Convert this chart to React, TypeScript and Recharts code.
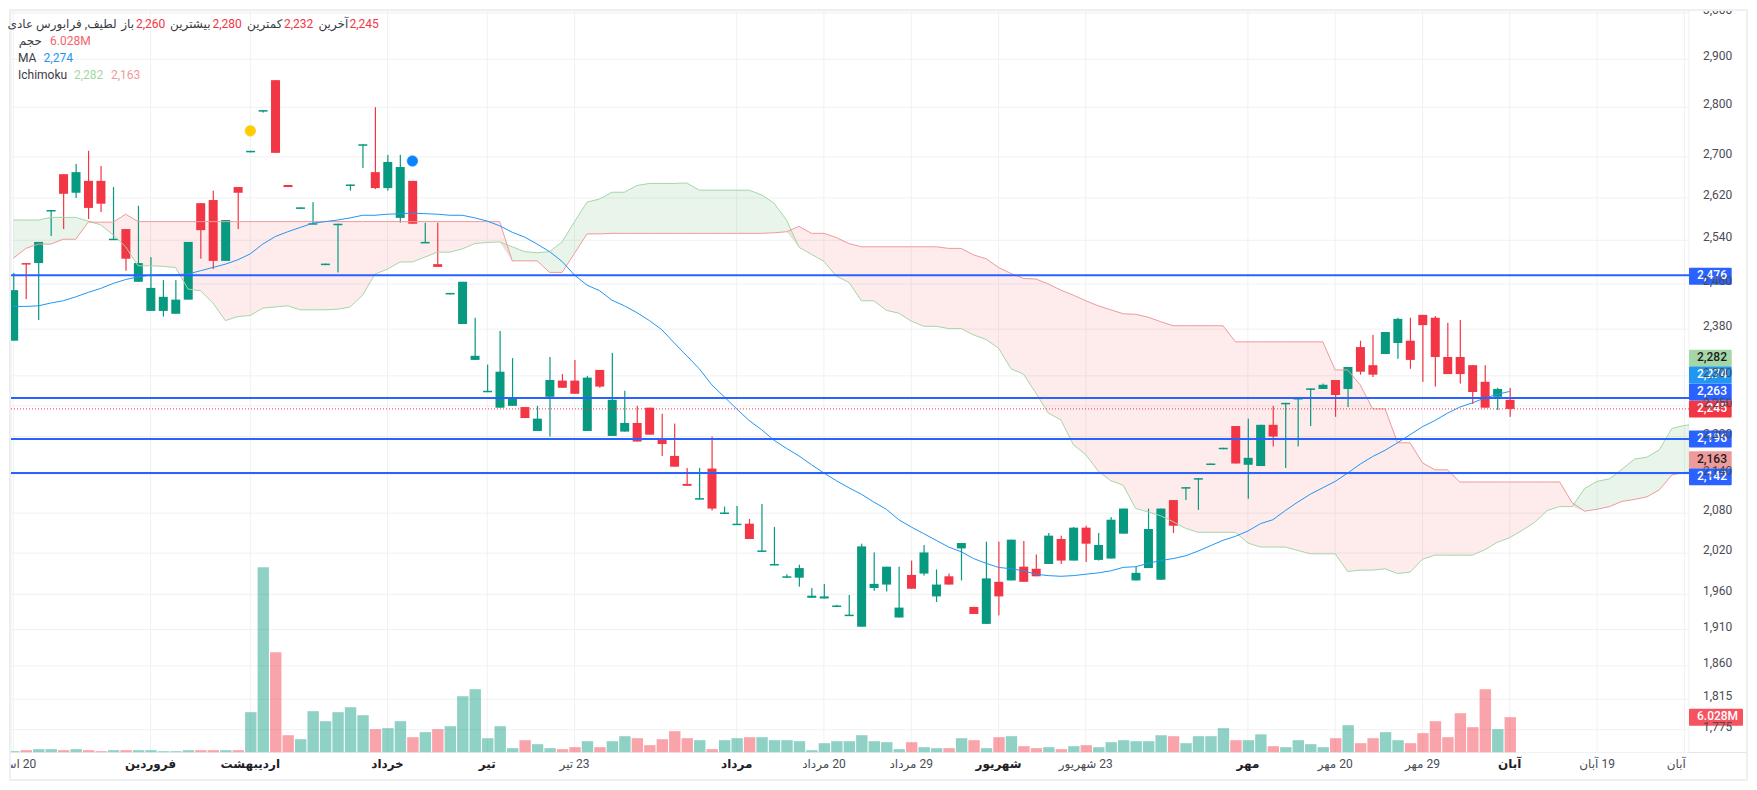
import React from "react";
import {
  ComposedChart, Bar, Line, Area, XAxis, YAxis, CartesianGrid, ReferenceLine, ReferenceDot,
} from "recharts";

const opens = [2360,2498,2498,2595,2666,2630,2653,2653,2541,2561,2464,2412,2412,2407,2432,2610,2616,2502,2641,2710,2792,2856,2645,2600,2570,2495,2569,2644,2723,2670,2639,2582,2653,2535,2496,2442,2389,2327,2273,2247,2250,2248,2209,2265,2292,2292,2209,2310,2201,2208,2222,2247,2195,2169,2125,2101,2149,2079,2062,2064,2022,2002,1984,1984,1955,1954,1943,1930,1914,1969,1974,1927,1988,1990,1957,1986,2027,1942,1918,1978,1980,2000,1997,2004,2041,2009,2058,2010,2012,2049,1980,1998,1981,2100,2118,2132,2155,2180,2217,2155,2153,2219,2253,2261,2277,2278,2293,2278,2349,2318,2337,2356,2360,2405,2400,2332,2332,2318,2290,2265,2260];
const highs = [2480,2498,2537,2597,2666,2686,2712,2682,2641,2561,2605,2509,2467,2467,2537,2610,2634,2578,2641,2712,2794,2856,2645,2602,2612,2497,2571,2646,2725,2800,2704,2704,2653,2573,2573,2444,2464,2400,2319,2377,2330,2248,2250,2332,2303,2327,2300,2310,2339,2275,2250,2247,2237,2221,2150,2150,2200,2090,2091,2071,2094,2059,1989,2003,1969,1975,1945,1959,2034,2021,2000,2000,2009,2032,1996,1990,2035,1942,2037,2037,2040,2038,2018,2050,2046,2059,2061,2050,2074,2087,2000,2087,2087,2100,2120,2134,2157,2182,2217,2229,2219,2250,2255,2263,2279,2287,2293,2315,2360,2370,2375,2400,2400,2405,2403,2391,2396,2318,2318,2280,2280];
const lows = [2360,2433,2396,2548,2561,2620,2580,2593,2541,2484,2464,2412,2402,2407,2432,2506,2487,2502,2561,2710,2789,2708,2641,2600,2570,2495,2481,2634,2678,2637,2634,2573,2571,2535,2491,2442,2389,2327,2273,2247,2250,2230,2209,2200,2280,2270,2209,2280,2201,2208,2192,2203,2169,2152,2122,2101,2084,2079,2062,2041,2022,2002,1984,1971,1955,1954,1943,1930,1914,1965,1964,1927,1968,1987,1949,1974,1980,1932,1918,1930,1980,1978,1986,2004,2004,2009,2007,2009,2012,2049,1980,1998,1981,2050,2100,2085,2155,2180,2157,2102,2153,2184,2150,2184,2217,2278,2232,2248,2302,2298,2337,2329,2312,2290,2282,2303,2287,2253,2247,2243,2232];
const closes = [2449,2496,2537,2597,2628,2670,2601,2609,2543,2506,2498,2453,2437,2432,2537,2559,2502,2578,2630,2712,2794,2708,2641,2602,2572,2497,2571,2646,2725,2639,2690,2680,2571,2537,2491,2444,2464,2334,2275,2307,2262,2230,2229,2293,2280,2270,2297,2282,2260,2222,2192,2203,2188,2152,2122,2103,2087,2081,2064,2041,2024,2004,1986,1998,1958,1957,1944,1931,2030,1975,2000,1941,1968,2021,1974,1974,2035,1932,1983,1957,2040,1978,1986,2046,2009,2058,2034,2032,2070,2087,1991,2056,2087,2061,2120,2134,2157,2182,2157,2166,2219,2200,2255,2263,2279,2285,2268,2315,2307,2302,2375,2398,2327,2387,2332,2303,2303,2273,2247,2278,2245];
const volumes = [0.23,0.4,0.57,0.57,0.4,0.57,0.4,0.23,0.4,0.4,0.4,0.4,0.23,0.23,0.4,0.4,0.4,0.4,0.4,6.88,31.6,17.1,2.95,2.27,7.05,5.34,6.88,7.73,6.36,3.98,4.15,5.34,2.61,3.47,3.98,4.49,9.6,10.8,2.44,4.49,0.74,2.1,1.42,0.74,0.57,0.91,1.93,0.91,1.93,2.78,2.44,1.25,2.27,3.64,2.44,2.1,0.57,2.1,2.44,2.61,2.61,2.1,2.1,1.93,0.4,1.59,1.93,1.93,2.95,1.93,1.76,0.57,1.76,0.91,0.74,0.74,2.44,2.1,0.74,2.61,2.78,1.08,0.74,0.91,0.57,1.08,1.25,0.91,1.76,2.1,1.93,1.93,2.95,2.78,1.59,2.78,2.78,4.15,2.1,2.1,3.1,1.08,0.91,2.1,1.42,0.91,2.44,4.66,1.59,2.44,3.47,2.1,1.59,3.3,5.34,2.61,6.7,4.32,10.8,3.98,6.028];
const movingAverage = [2420,2420,2421,2426,2430,2437,2445,2452,2461,2468,2473,2476,2477,2477,2478,2484,2490,2496,2504,2515,2533,2547,2556,2564,2572,2575,2578,2582,2587,2587,2589,2590,2591,2590,2589,2587,2587,2582,2576,2567,2555,2546,2533,2519,2501,2476,2458,2448,2431,2421,2409,2395,2379,2356,2334,2312,2285,2265,2245,2226,2211,2194,2181,2169,2155,2142,2130,2119,2109,2097,2086,2070,2059,2049,2039,2029,2022,2012,2005,1999,1997,1994,1989,1987,1986,1987,1989,1991,1994,1999,2000,2005,2009,2012,2016,2023,2031,2039,2045,2053,2064,2070,2084,2097,2109,2119,2129,2142,2156,2168,2178,2190,2203,2216,2226,2238,2248,2255,2263,2269,2274];
const spanA = [2578,2578,2578,2583,2583,2583,2576,2569,2550,2528,2493,2493,2492,2490,2451,2448,2426,2395,2402,2404,2417,2419,2421,2414,2414,2414,2415,2419,2440,2478,2487,2500,2500,2509,2518,2518,2524,2534,2536,2537,2528,2519,2517,2519,2537,2575,2612,2618,2631,2631,2644,2648,2648,2648,2649,2635,2635,2635,2635,2635,2626,2610,2578,2527,2514,2501,2474,2463,2430,2430,2413,2408,2394,2385,2385,2381,2381,2370,2362,2347,2312,2303,2271,2238,2227,2187,2171,2145,2130,2123,2087,2082,2076,2067,2057,2051,2051,2051,2051,2035,2029,2029,2029,2024,2019,2019,2019,1993,1995,1995,1997,1990,1992,2011,2017,2017,2017,2017,2025,2036,2043,2054,2066,2084,2090,2090,2118,2129,2133,2148,2164,2167,2179,2213,2218,2220];
const spanB = [2507,2525,2533,2533,2542,2542,2574,2574,2574,2589,2575,2575,2575,2575,2575,2575,2575,2575,2575,2575,2575,2575,2575,2575,2575,2575,2575,2575,2575,2575,2575,2575,2575,2575,2575,2575,2575,2575,2575,2575,2502,2502,2502,2481,2481,2516,2552,2552,2553,2553,2553,2553,2553,2553,2553,2553,2553,2553,2553,2553,2553,2554,2556,2566,2553,2553,2545,2534,2528,2528,2528,2528,2528,2528,2528,2525,2525,2513,2506,2490,2479,2470,2469,2460,2449,2440,2430,2421,2414,2407,2406,2401,2393,2386,2386,2386,2386,2386,2358,2358,2358,2358,2358,2358,2358,2358,2310,2310,2285,2245,2245,2190,2190,2158,2147,2147,2128,2128,2128,2128,2128,2128,2128,2128,2128,2096,2083,2086,2090,2098,2101,2105,2116,2139,2143,2144];

const priceTicks = [3000,2900,2800,2700,2620,2540,2460,2380,2300,2250,2200,2140,2080,2020,1960,1910,1860,1815,1775];
const timeTicks = [0,11,19,30,38,45,58,65,72,79,86,99,106,113,120,127,134];
const timeLabels = ["20 اسفند","فروردین","اردیبهشت","خرداد","تیر","23 تیر","مرداد","20 مرداد","29 مرداد","شهریور","23 شهریور","مهر","20 مهر","29 مهر","آبان","19 آبان","آبان"];
const boldLabels = ["فروردین","اردیبهشت","خرداد","تیر","مرداد","شهریور","مهر"];

const UP = "#089981";
const DOWN = "#f23645";
const LEVEL = "#2962ff";
const FONT = "Roboto, 'DejaVu Sans', sans-serif";
const X_DOMAIN = [-0.192, 134.37];
const PRICE_DOMAIN = [1745.6, 3004.4];

const rows = spanA.map((a, i) => ({
  i,
  open: opens[i] ?? null,
  high: highs[i] ?? null,
  low: lows[i] ?? null,
  close: closes[i] ?? null,
  volume: volumes[i] ?? null,
  ma: movingAverage[i] ?? null,
  spanA: a,
  spanB: spanB[i],
}));

const isUp = (r: any) => r.close >= r.open;

const CandlePart = (p: any) => {
  const { x, y, width, height, payload } = p;
  if (payload.close == null || !isFinite(y) || !isFinite(height)) return null;
  return <rect x={x} y={y} width={width} height={Math.max(height, 1.5)} fill={isUp(payload) ? UP : DOWN} />;
};
const VolumeBar = (p: any) => {
  const { x, y, width, height, payload } = p;
  if (payload.volume == null || !isFinite(y) || !isFinite(height)) return null;
  return <rect x={x} y={y} width={width} height={height} fill={isUp(payload) ? UP : DOWN} fillOpacity={0.45} />;
};

const XTick = (p: any) => {
  const idx = timeTicks.indexOf(p.payload.value);
  const label = timeLabels[idx];
  const last = idx === timeTicks.length - 1;
  const bold = boldLabels.includes(label) || (label === "آبان" && !last);
  return (
    <text x={last ? p.x - 8 : p.x} y={765 - 11} dy={0} dominantBaseline="middle" textAnchor="middle" direction="rtl"
      fontFamily={FONT} fontSize={12} fontWeight={bold ? 700 : 400} fill={bold ? "#1f2026" : "#4a4c55"}>
      {label}
    </text>
  );
};
const YTick = (p: any) => (
  <text x={p.x} y={p.y - 2} dominantBaseline="middle" fontFamily={FONT} fontSize={12} fill="#4a4c55">
    {p.payload.value.toLocaleString("en-US")}
  </text>
);

const Tag = ({ viewBox, text, fill, color = "#fff", shift = 0, w = 42.7 }: any) => {
  const left = viewBox.x + viewBox.width;
  const cy = viewBox.y + shift;
  return (
    <g>
      <rect x={left} y={cy - 8.5} width={w} height={17} rx={1} fill={fill} />
      <text x={left + 8} y={cy} dominantBaseline="middle" fontFamily={FONT} fontSize={12} fontWeight={500} fill={color}>{text}</text>
    </g>
  );
};

const Txt = ({ x, y, right, color = "#3a3c44", children }: any) => (
  <span style={{
    position: "absolute", left: x ?? right, top: y - 8, lineHeight: "16px", fontFamily: FONT, fontSize: 12,
    color, whiteSpace: "nowrap", transform: right != null ? "translateX(-100%)" : undefined,
    direction: right != null ? "rtl" : "ltr",
  }}>{children}</span>
);

export default function App() {
  return (
    <div style={{ position: "absolute", left: 0, top: 0, width: 1757, height: 790, background: "#fff", overflow: "hidden" }}>
      <div style={{ position: "absolute", left: 9, top: 9, width: 1735, height: 768, border: "2px solid #eeeef3" }} />
      <div style={{ position: "absolute", left: 1689, top: 752, width: 57, height: 1, background: "#e4e4ea" }} />
      <div style={{ position: "absolute", left: 11, top: 11 }}>
        <ComposedChart width={1735} height={768} data={rows} margin={{ top: 0, right: 0, bottom: 0, left: 0 }}>
          <CartesianGrid xAxisId="main" yAxisId="price" stroke="#f0f1f3" strokeWidth={1} />
          <XAxis xAxisId="main" type="number" dataKey="i" domain={X_DOMAIN} allowDataOverflow ticks={timeTicks} interval={0}
            height={26.5} tick={<XTick />} tickLine={false} axisLine={{ stroke: "#e4e4ea", strokeWidth: 1.5 }} />
          <XAxis xAxisId="wick" hide type="number" dataKey="i" domain={X_DOMAIN} allowDataOverflow ticks={[0, 1]} />
          <XAxis xAxisId="body" hide type="number" dataKey="i" domain={X_DOMAIN} allowDataOverflow ticks={[0, 1]} />
          <XAxis xAxisId="vol" hide type="number" dataKey="i" domain={X_DOMAIN} allowDataOverflow ticks={[0, 1]} />
          <YAxis yAxisId="price" orientation="right" width={57} scale="log" domain={PRICE_DOMAIN} allowDataOverflow ticks={priceTicks}
            interval={0} tick={<YTick />} tickLine={false} axisLine={false} tickMargin={8} />
          <YAxis yAxisId="volume" orientation="right" hide domain={[0, 126.5]} allowDataOverflow />

          <Area xAxisId="main" yAxisId="price" dataKey={(r: any) => (r.spanA >= r.spanB ? [r.spanB, r.spanA] : [r.spanA, r.spanA])}
            stroke="none" fill="#4caf50" fillOpacity={0.12} isAnimationActive={false} dot={false} activeDot={false} />
          <Area xAxisId="main" yAxisId="price" dataKey={(r: any) => (r.spanB > r.spanA ? [r.spanA, r.spanB] : [r.spanB, r.spanB])}
            stroke="none" fill="#f23645" fillOpacity={0.1} isAnimationActive={false} dot={false} activeDot={false} />
          <Line xAxisId="main" yAxisId="price" dataKey="spanA" stroke="#a5d6a7" strokeWidth={1} dot={false} activeDot={false} isAnimationActive={false} />
          <Line xAxisId="main" yAxisId="price" dataKey="spanB" stroke="#ef9a9a" strokeWidth={1} dot={false} activeDot={false} isAnimationActive={false} />

          <Bar xAxisId="vol" yAxisId="volume" dataKey="volume" barSize={11.4} shape={<VolumeBar />} isAnimationActive={false} />
          <Bar xAxisId="wick" yAxisId="price" dataKey={(r: any) => (r.close == null ? null : [r.low, r.high])} barSize={1.2} shape={<CandlePart />} isAnimationActive={false} />
          <Bar xAxisId="body" yAxisId="price" dataKey={(r: any) => (r.close == null ? null : [Math.min(r.open, r.close), Math.max(r.open, r.close)])} barSize={9} shape={<CandlePart />} isAnimationActive={false} />

          <Line xAxisId="main" yAxisId="price" dataKey="ma" stroke="#2196f3" strokeWidth={1} dot={false} activeDot={false} isAnimationActive={false} />

          <ReferenceDot xAxisId="main" yAxisId="price" x={19} y={2752} r={5.3} fill="#ffcc00" stroke="#f5c518" strokeWidth={0.5} />
          <ReferenceDot xAxisId="main" yAxisId="price" x={32} y={2692} r={5.3} fill="#0a84ff" stroke="#0a84ff" strokeWidth={0.5} />

          <ReferenceLine xAxisId="main" yAxisId="price" y={2245} stroke={DOWN} strokeWidth={1} strokeDasharray="1 2" label={(p: any) => <Tag {...p} text="2,245" fill={DOWN} />} />
          <ReferenceLine xAxisId="main" yAxisId="price" y={2476} stroke={LEVEL} strokeWidth={2} label={(p: any) => <Tag {...p} text="2,476" fill={LEVEL} shift={1} />} />
          <ReferenceLine xAxisId="main" yAxisId="price" y={2263} stroke={LEVEL} strokeWidth={2} label={(p: any) => <Tag {...p} text="2,263" fill={LEVEL} shift={-6} />} />
          <ReferenceLine xAxisId="main" yAxisId="price" y={2196} stroke={LEVEL} strokeWidth={2} label={(p: any) => <Tag {...p} text="2,196" fill={LEVEL} />} />
          <ReferenceLine xAxisId="main" yAxisId="price" y={2142} stroke={LEVEL} strokeWidth={2} label={(p: any) => <Tag {...p} text="2,142" fill={LEVEL} shift={3.7} />} />
          <ReferenceLine xAxisId="main" yAxisId="price" y={2282} stroke="none" label={(p: any) => <Tag {...p} text="2,282" fill="#a5d6a7" color="#1b1c20" shift={-28.3} />} />
          <ReferenceLine xAxisId="main" yAxisId="price" y={2274} stroke="none" label={(p: any) => <Tag {...p} text="2,274" fill="#2196f3" shift={-16.3} />} />
          <ReferenceLine xAxisId="main" yAxisId="price" y={2163} stroke="none" label={(p: any) => <Tag {...p} text="2,163" fill="#ef9a9a" color="#1b1c20" />} />
          <ReferenceLine xAxisId="main" yAxisId="volume" y={6.028} stroke="none" label={(p: any) => <Tag {...p} text="6.028M" fill="#f7525f" w={54} />} />
        </ComposedChart>
      </div>

      <Txt right={116.7} y={24}>لطیف, فرابورس عادی</Txt>
      <Txt right={134} y={24}>باز</Txt>
      <Txt x={135.9} y={24} color={DOWN}>2,260</Txt>
      <Txt right={210.5} y={24}>بیشترین</Txt>
      <Txt x={212.4} y={24} color={DOWN}>2,280</Txt>
      <Txt right={282.4} y={24}>کمترین</Txt>
      <Txt x={284} y={24} color={DOWN}>2,232</Txt>
      <Txt right={348.3} y={24}>آخرین</Txt>
      <Txt x={349.4} y={24} color={DOWN}>2,245</Txt>
      <Txt right={42} y={41}>حجم</Txt>
      <Txt x={50} y={41} color="#f7616d">6.028M</Txt>
      <Txt x={18} y={58}>MA</Txt>
      <Txt x={43.6} y={58} color="#2196f3">2,274</Txt>
      <Txt x={18} y={75}>Ichimoku</Txt>
      <Txt x={74} y={75} color="#a5d6a7">2,282</Txt>
      <Txt x={111} y={75} color="#ef9a9a">2,163</Txt>
    </div>
  );
}
